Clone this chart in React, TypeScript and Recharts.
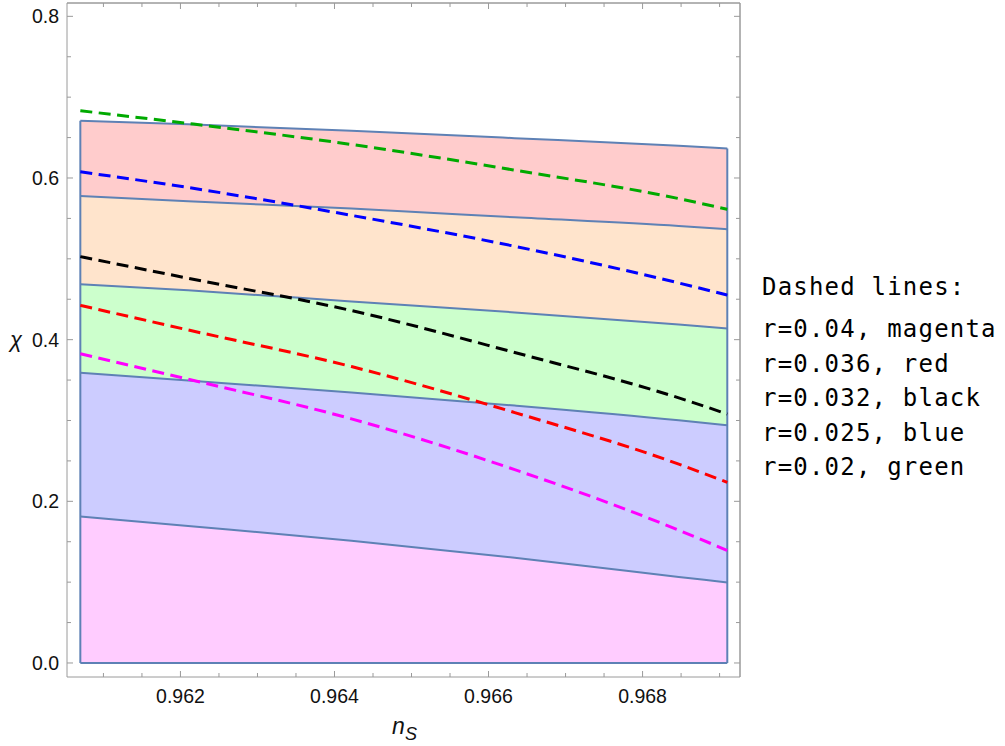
import React from "react";
import { ComposedChart, Area, Line, XAxis, YAxis, ReferenceLine } from "recharts";

// n_S sample points (left edge, columns, right edge)
const nsValues = [0.9607, 0.9621, 0.96422, 0.96634, 0.96847, 0.9691];

// region boundaries, top to bottom
const edgeTop = [0.6708, 0.6665, 0.6584, 0.6493, 0.6398, 0.6366];
const edge2 = [0.5778, 0.5713, 0.5622, 0.5514, 0.5406, 0.5366];
const edge3 = [0.4684, 0.461, 0.4473, 0.4337, 0.4188, 0.4139];
const edge4 = [0.359, 0.3494, 0.3346, 0.3185, 0.3003, 0.2941];
const edge5 = [0.1813, 0.1695, 0.1512, 0.1301, 0.1065, 0.0995];
const edgeBottom = [0, 0, 0, 0, 0, 0];

// dashed lines, one per r
const rGreen = [0.6832, 0.6675, 0.6415, 0.6097, 0.5745, 0.5613];
const rBlue = [0.6076, 0.5882, 0.5538, 0.5155, 0.4701, 0.4551];
const rBlack = [0.5027, 0.476, 0.436, 0.3841, 0.328, 0.308];
const rRed = [0.4424, 0.412, 0.3667, 0.3098, 0.246, 0.2234];
const rMagenta = [0.3825, 0.351, 0.302, 0.2392, 0.1643, 0.1392];

const xTicks = [0.961, 0.9615, 0.962, 0.9625, 0.963, 0.9635, 0.964, 0.9645, 0.965, 0.9655, 0.966, 0.9665, 0.967, 0.9675, 0.968, 0.9685, 0.969];
const xMajor = [0.962, 0.964, 0.966, 0.968];
const xLabels = ["0.962", "0.964", "0.966", "0.968"];
const yTicks = [0, 0.05, 0.1, 0.15, 0.2, 0.25, 0.3, 0.35, 0.4, 0.45, 0.5, 0.55, 0.6, 0.65, 0.7, 0.75, 0.8];
const yMajor = [0, 0.2, 0.4, 0.6, 0.8];
const yLabels = ["0.0", "0.2", "0.4", "0.6", "0.8"];

const legendTitle = "Dashed lines:";
const legendRows = ["r=0.04, magenta", "r=0.036, red", "r=0.032, black", "r=0.025, blue", "r=0.02, green"];

const xDomain = [0.960527, 0.969265];
const yDomain = [-0.01735, 0.8165];

const data = nsValues.map((ns, i) => ({
  ns,
  edgeTop: edgeTop[i],
  edge2: edge2[i],
  edge3: edge3[i],
  edge4: edge4[i],
  edge5: edge5[i],
  edgeBottom: edgeBottom[i],
  bandRed: [edge2[i], edgeTop[i]],
  bandOrange: [edge3[i], edge2[i]],
  bandGreen: [edge4[i], edge3[i]],
  bandBlue: [edge5[i], edge4[i]],
  bandMagenta: [edgeBottom[i], edge5[i]],
  rGreen: rGreen[i],
  rBlue: rBlue[i],
  rBlack: rBlack[i],
  rRed: rRed[i],
  rMagenta: rMagenta[i],
}));

const FRAME = "#9a9a9a";
const EDGE = "#5e81b5";

const frameTick = (side: "left" | "right" | "top" | "bottom") => (props: any) => {
  const { x, y, payload } = props;
  const v: number = payload.value;
  const vertical = side === "left" || side === "right";
  const majors = vertical ? yMajor : xMajor;
  const labels = vertical ? yLabels : xLabels;
  const k = majors.findIndex((m) => Math.abs(m - v) < 1e-7);
  const len = k >= 0 ? 6 : 4;
  let tick;
  if (side === "left") tick = <line x1={x} y1={y} x2={x + len} y2={y} stroke={FRAME} />;
  else if (side === "right") tick = <line x1={x} y1={y} x2={x - len} y2={y} stroke={FRAME} />;
  else if (side === "top") tick = <line x1={x} y1={y} x2={x} y2={y + len} stroke={FRAME} />;
  else tick = <line x1={x} y1={y} x2={x} y2={y - len} stroke={FRAME} />;
  let label = null;
  if (k >= 0 && side === "left") {
    label = (
      <text x={x - 8} y={y + 7} textAnchor="end" fontSize={19.5} fontFamily="Liberation Sans, Arial, sans-serif" fill="#111">
        {labels[k]}
      </text>
    );
  } else if (k >= 0 && side === "bottom") {
    label = (
      <text x={x} y={y + 26} textAnchor="middle" fontSize={19.5} fontFamily="Liberation Sans, Arial, sans-serif" fill="#111">
        {labels[k]}
      </text>
    );
  }
  return (
    <g>
      {tick}
      {label}
    </g>
  );
};

const bands = [
  { key: "bandRed", fill: "#ffcccc" },
  { key: "bandOrange", fill: "#ffe4cc" },
  { key: "bandGreen", fill: "#ccffcc" },
  { key: "bandBlue", fill: "#ccccff" },
  { key: "bandMagenta", fill: "#ffccff" },
];
const edges = ["edgeTop", "edge2", "edge3", "edge4", "edge5", "edgeBottom"];
const dashed = [
  { key: "rGreen", color: "#00aa00" },
  { key: "rBlue", color: "#0000ff" },
  { key: "rBlack", color: "#000000" },
  { key: "rRed", color: "#ff0000" },
  { key: "rMagenta", color: "#ff00ff" },
];

const App = () => {
  const first = nsValues[0];
  const last = nsValues[nsValues.length - 1];
  return (
    <div style={{ position: "absolute", left: 0, top: 0, width: 1005, height: 746, background: "#fff" }}>
      <ComposedChart width={1005} height={746} data={data} margin={{ top: 3, right: 265, bottom: 39, left: 7 }}>
        <XAxis
          dataKey="ns"
          type="number"
          domain={xDomain}
          allowDataOverflow
          ticks={xTicks}
          interval={0}
          tickSize={0}
          tickMargin={0}
          tickLine={false}
          height={30}
          axisLine={{ stroke: FRAME }}
          tick={frameTick("bottom")}
        />
        <XAxis
          xAxisId="top"
          dataKey="ns"
          orientation="top"
          type="number"
          domain={xDomain}
          allowDataOverflow
          ticks={xTicks}
          interval={0}
          tickSize={0}
          tickMargin={0}
          tickLine={false}
          height={1}
          mirror
          axisLine={{ stroke: FRAME }}
          tick={frameTick("top")}
        />
        <YAxis
          type="number"
          domain={yDomain}
          allowDataOverflow
          ticks={yTicks}
          interval={0}
          tickSize={0}
          tickMargin={0}
          tickLine={false}
          width={60}
          axisLine={{ stroke: FRAME }}
          tick={frameTick("left")}
        />
        <YAxis
          yAxisId="right"
          orientation="right"
          type="number"
          domain={yDomain}
          allowDataOverflow
          ticks={yTicks}
          interval={0}
          tickSize={0}
          tickMargin={0}
          tickLine={false}
          width={1}
          mirror
          axisLine={{ stroke: FRAME }}
          tick={frameTick("right")}
        />
        {bands.map((b) => (
          <Area
            key={b.key}
            dataKey={b.key}
            type="monotone"
            stroke="none"
            fill={b.fill}
            fillOpacity={1}
            isAnimationActive={false}
          />
        ))}
        {edges.map((e) => (
          <Line
            key={e}
            dataKey={e}
            type="monotone"
            stroke={EDGE}
            strokeWidth={2}
            dot={false}
            activeDot={false}
            isAnimationActive={false}
          />
        ))}
        <ReferenceLine
          segment={[{ x: first, y: edgeBottom[0] }, { x: first, y: edgeTop[0] }]}
          stroke={EDGE}
          strokeWidth={2}
        />
        <ReferenceLine
          segment={[{ x: last, y: edgeBottom[edgeBottom.length - 1] }, { x: last, y: edgeTop[edgeTop.length - 1] }]}
          stroke={EDGE}
          strokeWidth={2}
        />
        {dashed.map((d) => (
          <Line
            key={d.key}
            dataKey={d.key}
            type="monotone"
            stroke={d.color}
            strokeWidth={3}
            strokeDasharray="12 6.5"
            dot={false}
            activeDot={false}
            isAnimationActive={false}
          />
        ))}
        {/* invisible series so the mirrored frame axes get drawn */}
        <Line
          xAxisId="top"
          yAxisId="right"
          dataKey="edgeBottom"
          stroke="none"
          dot={false}
          activeDot={false}
          legendType="none"
          isAnimationActive={false}
        />
        {/* right and top frame edges */}
        <ReferenceLine x={xDomain[1]} stroke={FRAME} ifOverflow="visible" />
        <ReferenceLine y={yDomain[1]} stroke={FRAME} ifOverflow="visible" />
      </ComposedChart>
      <svg width={1005} height={746} style={{ position: "absolute", left: 0, top: 0, pointerEvents: "none" }}>
        <text x={10} y={347} fontSize={22} fontStyle="italic" fontFamily="Liberation Sans, Arial, sans-serif" fill="#111">
          χ
        </text>
        <text x={392} y={734} fontSize={23} fontStyle="italic" fontFamily="Liberation Sans, Arial, sans-serif" fill="#111">
          n
        </text>
        <text x={405} y={740} fontSize={18} fontStyle="italic" fontFamily="Liberation Sans, Arial, sans-serif" fill="#111">
          S
        </text>
        <text x={762} y={295} fontSize={24} letterSpacing={1.2} fontFamily="DejaVu Sans Mono, monospace" fill="#000">
          {legendTitle}
        </text>
        {legendRows.map((row, i) => (
          <text key={row} x={762} y={337 + i * 34.6} fontSize={24} letterSpacing={1.2} fontFamily="DejaVu Sans Mono, monospace" fill="#000">
            {row}
          </text>
        ))}
      </svg>
    </div>
  );
};

export default App;
